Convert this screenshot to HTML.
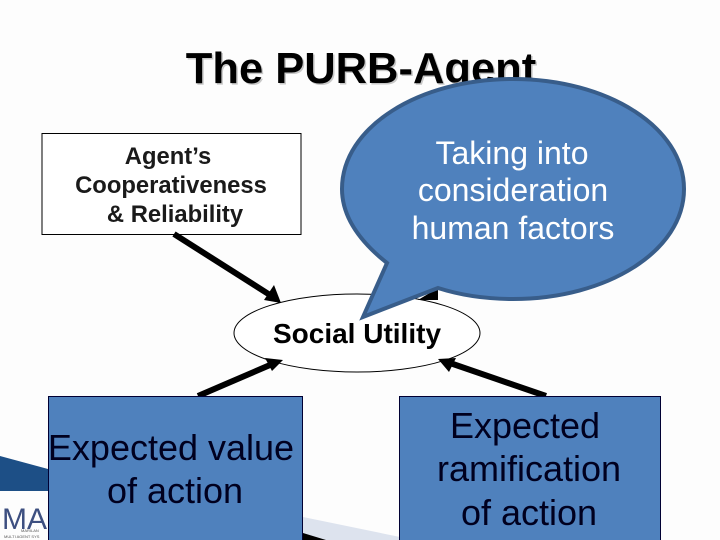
<!DOCTYPE html>
<html><head><meta charset="utf-8"><style>
html,body{margin:0;padding:0;background:#fff}
svg{display:block}
text{font-family:"Liberation Sans",sans-serif}
</style></head><body>
<svg width="720" height="540" viewBox="0 0 720 540" xmlns="http://www.w3.org/2000/svg">
<rect width="720" height="540" fill="#fdfdfd"/>
<polygon points="0,456 48,469 48,491 0,491" fill="#1d4f86"/>
<polygon points="303,517 400,537 400,540 303,540" fill="#dde3ee"/>
<polygon points="303,533 326,540 303,540" fill="#000"/>
<text x="2" y="529" font-size="30" fill="#3d4f80">MAS</text>
<text x="21" y="532" font-size="4" fill="#555">MARILAN</text>
<text x="4" y="538" font-size="4" fill="#555">MULTI AGENT SYS</text>
<text x="361" y="83" font-size="43.500" font-weight="bold" text-anchor="middle" fill="#c8c8c8" transform="translate(1.5,1.5)">The PURB-Agent</text>
<text x="361" y="83" font-size="43.500" font-weight="bold" text-anchor="middle" fill="#000">The PURB-Agent</text>
<rect x="42" y="133.500" width="259" height="101" fill="#fff" stroke="#000" stroke-width="1"/>
<g font-size="23.800" font-weight="bold" text-anchor="middle" fill="#1a1a1a">
<text x="168" y="164">Agent’s</text>
<text x="171" y="193">Cooperativeness</text>
<text x="175" y="222">&amp; Reliability</text>
</g>
<ellipse cx="357" cy="333" rx="123" ry="39" fill="#fff" stroke="#000" stroke-width="1"/>
<text x="357" y="343" font-size="28" font-weight="bold" text-anchor="middle" fill="#000">Social Utility</text>
<g stroke="#000" stroke-width="6" fill="#000">
<line x1="174" y1="234" x2="270" y2="295"/>
<line x1="198" y1="396" x2="270" y2="365"/>
<line x1="546" y1="396" x2="450" y2="363"/>
</g>
<polygon points="281,303 264,300 274,285" fill="#000"/>
<polygon points="283,360 272,371 265,358" fill="#000"/>
<polygon points="438,359 456,358 449,372" fill="#000"/>
<polygon points="418,300 438,288 438,300" fill="#000"/>
<path d="M387,263 C358,240 342,215 342,189 C342,127 419,79 513,79 C607,79 684,127 684,189 C684,251 607,299 513,299 C485,299 460,295 438,288 L363,317 Z" fill="#4f81bd" stroke="#385d8a" stroke-width="4" stroke-linejoin="miter"/>
<g font-size="32" text-anchor="middle" fill="#fff">
<text x="512" y="164">Taking into</text>
<text x="513" y="201">consideration</text>
<text x="513" y="239">human factors</text>
</g>
<rect x="48.500" y="396.500" width="254" height="150" fill="#4f81bd" stroke="#000033" stroke-width="1"/>
<rect x="399.500" y="396.500" width="261" height="150" fill="#4f81bd" stroke="#000033" stroke-width="1"/>
<g font-size="36" text-anchor="middle" fill="#00001f">
<text x="171" y="460">Expected value</text>
<text x="175" y="503">of action</text>
<text x="525" y="438">Expected</text>
<text x="529" y="481">ramification</text>
<text x="529" y="525">of action</text>
</g>
</svg>
</body></html>
